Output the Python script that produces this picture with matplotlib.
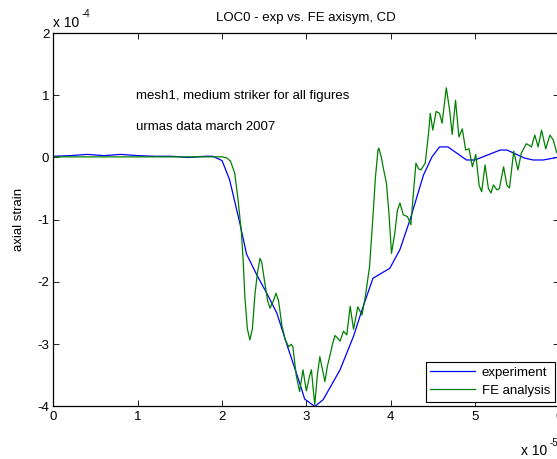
import matplotlib
matplotlib.use("Agg")
import matplotlib.pyplot as plt

plt.rcParams['font.family'] = ['Liberation Sans', 'DejaVu Sans']
plt.rcParams['font.size'] = 9.5
plt.rcParams['axes.unicode_minus'] = False

# time in units of 1e-5 s, strain in units of 1e-4
t_exp = [0.0, 0.2, 0.4, 0.6, 0.8, 1.0, 1.2, 1.4, 1.6, 1.8, 1.89, 2.0, 2.09,
         2.21, 2.29, 2.41, 2.53, 2.65, 2.78, 2.92, 2.98, 3.10, 3.20, 3.40,
         3.56, 3.66, 3.79, 3.99, 4.11, 4.23, 4.39, 4.49, 4.58, 4.68, 4.90,
         5.0, 5.30, 5.38, 5.59, 5.69, 5.81, 5.97, 6.0]
eps_exp = [0.02, 0.03, 0.05, 0.03, 0.05, 0.03, 0.02, 0.02, 0.0, 0.02, 0.02,
           -0.05, -0.36, -1.05, -1.55, -1.88, -2.18, -2.5, -3.05, -3.62,
           -3.88, -4.0, -3.89, -3.41, -2.87, -2.45, -1.94, -1.78, -1.48,
           -1.0, -0.28, 0.01, 0.17, 0.17, -0.04, -0.04, 0.12, 0.12, -0.01,
           -0.04, -0.04, 0.0, 0.0]

t_fe = [0.0, 0.5, 1.0, 1.5, 1.9, 2.01, 2.06, 2.10, 2.15, 2.19, 2.23, 2.25,
        2.27, 2.30, 2.33, 2.36, 2.39, 2.42, 2.45, 2.47, 2.50, 2.54, 2.57,
        2.61, 2.64, 2.67, 2.71, 2.75, 2.79, 2.82, 2.84, 2.88, 2.92, 2.96,
        3.00, 3.04, 3.06, 3.08, 3.10, 3.13, 3.16, 3.19, 3.22, 3.25, 3.28,
        3.31, 3.34, 3.37, 3.40, 3.44, 3.48, 3.52, 3.56, 3.61, 3.66, 3.70,
        3.75, 3.79, 3.82, 3.85, 3.86, 3.89, 3.91, 3.95, 3.98, 4.01, 4.05,
        4.08, 4.11, 4.15, 4.20, 4.24, 4.27, 4.30, 4.33, 4.36, 4.41, 4.45,
        4.47, 4.50, 4.54, 4.58, 4.61, 4.66, 4.70, 4.73, 4.77, 4.81, 4.85,
        4.89, 4.93, 4.97, 5.01, 5.05, 5.08, 5.12, 5.16, 5.19, 5.22, 5.26,
        5.29, 5.34, 5.38, 5.41, 5.46, 5.51, 5.55, 5.61, 5.64, 5.67, 5.71,
        5.75, 5.79, 5.84, 5.89, 5.93, 5.97, 6.0]
eps_fe = [0.01, 0.01, 0.01, 0.01, 0.01, 0.01, -0.01, -0.06, -0.25, -0.68,
          -1.21, -1.64, -2.23, -2.75, -2.93, -2.75, -2.2, -1.85, -1.62,
          -1.68, -1.95, -2.3, -2.42, -2.3, -2.18, -2.3, -2.7, -2.93, -3.04,
          -3.0, -3.04, -3.5, -3.76, -3.41, -3.75, -3.5, -3.41, -3.7, -3.97,
          -3.5, -3.2, -3.4, -3.6, -3.35, -3.18, -3.0, -2.86, -2.9, -2.95,
          -2.79, -2.85, -2.39, -2.76, -2.4, -2.53, -2.23, -1.75, -0.95,
          -0.31, 0.12, 0.15, 0.0, -0.15, -0.41, -0.9, -1.54, -1.21, -0.85,
          -0.73, -0.92, -0.95, -1.08, -0.57, -0.09, -0.18, -0.2, -0.09,
          0.39, 0.71, 0.44, 0.74, 0.71, 0.55, 1.12, 0.76, 0.37, 0.92, 0.33,
          0.46, 0.12, 0.14, -0.15, 0.05, -0.45, -0.55, -0.12, -0.5, -0.57,
          -0.44, -0.52, -0.5, -0.15, -0.45, -0.49, 0.1, -0.2, 0.07, 0.22,
          0.2, 0.17, 0.36, 0.17, 0.44, 0.14, 0.36, 0.28, 0.08, 0.05]

xticks = [0, 1, 2, 3, 4, 5, 6]
yticks = [-4, -3, -2, -1, 0, 1, 2]

fig = plt.figure(figsize=(5.57, 4.59), dpi=100)
ax = fig.add_axes([0.096, 0.1144, 0.908, 0.8137])

ax.plot(t_exp, eps_exp, color='#0000ff', lw=0.9, label='experiment')
ax.plot(t_fe, eps_fe, color='#008000', lw=0.9, label='FE analysis')

ax.set_xlim(0, 6)
ax.set_ylim(-4, 2)
ax.set_xticks(xticks)
ax.set_yticks(yticks)
ax.tick_params(direction='in', top=True, right=True, length=4, width=0.6,
               labelsize=9.5, pad=3)
for s in ax.spines.values():
    s.set_linewidth(0.9)

ax.set_title('LOC0 - exp vs. FE axisym, CD', fontsize=9.5, pad=9)
ax.set_ylabel('axial strain', fontsize=9.5, labelpad=9)

ax.text(0.163, 0.83, 'mesh1, medium striker for all figures',
        transform=ax.transAxes, fontsize=9.5, va='center')
ax.text(0.163, 0.747, 'urmas data march 2007',
        transform=ax.transAxes, fontsize=9.5, va='center')

# axis multipliers, drawn as "x 10" plus a raised exponent
fig.text(0.095, 0.942, 'x 10', fontsize=10)
fig.text(0.146, 0.962, '-4', fontsize=7)
fig.text(0.935, 0.008, 'x 10', fontsize=10)
fig.text(0.986, 0.028, '-5', fontsize=7)

leg = ax.legend(loc='lower right', bbox_to_anchor=(0.991, 0.013),
                borderaxespad=0, fancybox=False, framealpha=1,
                edgecolor='black', fontsize=9.5, handlelength=3.4,
                handletextpad=0.5, borderpad=0.35, labelspacing=0.45)
leg.get_frame().set_linewidth(0.8)

fig.savefig('out.png', dpi=100)
